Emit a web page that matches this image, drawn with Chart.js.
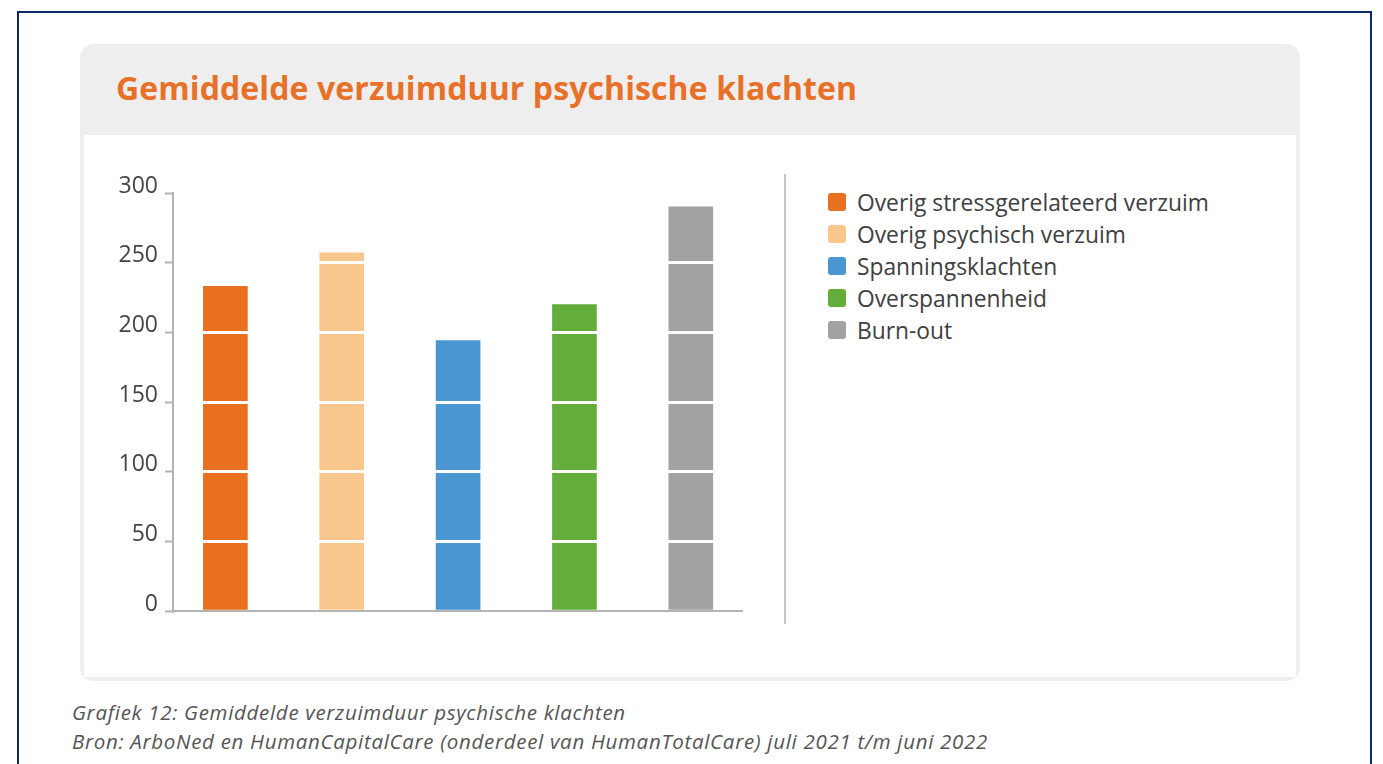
<!DOCTYPE html>
<html>
<head>
<meta charset="utf-8">
<script src="https://cdn.jsdelivr.net/npm/chart.js@4.4.1/dist/chart.umd.min.js"></script>
<style>
  html, body { margin: 0; padding: 0; width: 1383px; height: 764px; overflow: hidden; background: #fff; }
  body { position: relative; font-family: "Open Sans", sans-serif; }
  #frame { position: absolute; left: 17px; top: 11px; width: 1355px; height: 800px; border: 2px solid #0c2a6b; box-sizing: border-box; }
  #card { position: absolute; left: 80px; top: 44px; width: 1220px; height: 637px; background: #eeeeee; border-radius: 14px; }
  #panel { position: absolute; left: 84px; top: 135px; width: 1212px; height: 542px; background: #fff; }
  #title { position: absolute; left: 116px; top: 66px; margin: 0; font-size: 32px; letter-spacing: 0.1px; font-weight: 700; color: #e8712a; white-space: nowrap; line-height: 44px; }
  #sep { position: absolute; left: 784px; top: 174px; width: 2px; height: 450px; background: #c6c6c6; }
  #chartBox { position: absolute; left: 84px; top: 135px; }
  #legend { position: absolute; left: 828px; top: 186px; margin: 0; padding: 0; list-style: none; }
  #legend li { display: flex; align-items: center; height: 32px; font-size: 22.8px; color: #404040; white-space: nowrap; }
  #legend li span.box { display: inline-block; width: 18px; height: 18px; border-radius: 3px; margin-right: 11px; }
  #caption { position: absolute; left: 72px; top: 698px; font-size: 20.5px; letter-spacing: 0.69px; font-style: italic; color: #555; line-height: 29px; white-space: nowrap; }
</style>
</head>
<body>
<div id="frame"></div>
<div id="card"></div>
<div id="panel"></div>
<h1 id="title">Gemiddelde verzuimduur psychische klachten</h1>
<div id="sep"></div>
<div id="chartBox"><canvas id="chart" width="700" height="545"></canvas></div>
<ul id="legend"></ul>
<div id="caption">Grafiek 12: Gemiddelde verzuimduur psychische klachten<br>Bron: ArboNed en HumanCapitalCare (onderdeel van HumanTotalCare) juli 2021 t/m juni 2022</div>
<script>
const categories = [
  "Overig stressgerelateerd verzuim",
  "Overig psychisch verzuim",
  "Spanningsklachten",
  "Overspannenheid",
  "Burn-out"
];
const values = [233, 257, 194, 220, 290];
const colors = ["#e8701f", "#f9c78e", "#4a96d0", "#63ae3a", "#a2a2a2"];
const yTicks = [0, 50, 100, 150, 200, 250, 300];

const datasets = categories.map((name, i) => ({
  label: name,
  data: [{ x: i, y: values[i] }],
  backgroundColor: colors[i],
  borderWidth: 0,
  barThickness: 44,
  grouped: false
}));

const htmlLegend = {
  id: 'htmlLegend',
  afterUpdate(chart) {
    const ul = document.getElementById('legend');
    ul.innerHTML = '';
    const items = chart.options.plugins.legend.labels.generateLabels(chart);
    items.forEach(item => {
      const li = document.createElement('li');
      const box = document.createElement('span');
      box.className = 'box';
      box.style.background = item.fillStyle;
      li.appendChild(box);
      li.appendChild(document.createTextNode(item.text));
      ul.appendChild(li);
    });
  }
};

new Chart(document.getElementById('chart'), {
  type: 'bar',
  data: { datasets },
  plugins: [htmlLegend],
  options: {
    responsive: false,
    devicePixelRatio: 1,
    animation: false,
    layout: { padding: { top: 58, right: 42, bottom: 69, left: 0 } },
    plugins: { legend: { display: false }, tooltip: { enabled: false } },
    scales: {
      x: {
        type: 'linear',
        offset: false,
        min: -0.45,
        max: 4.44,
        ticks: { display: false },
        grid: { display: false },
        border: { display: true, color: '#b4b4b4', width: 2, z: 2 },
        afterFit(scale) { scale.height = 0; }
      },
      y: {
        min: 0,
        max: 300,
        afterBuildTicks(scale) { scale.ticks = yTicks.map(v => ({ value: v })); },
        afterFit(scale) { scale.width = 89; },
        ticks: {
          padding: 7,
          labelOffset: -7,
          color: '#444444',
          font: { family: '"Open Sans", sans-serif', size: 23 }
        },
        grid: {
          z: 1,
          color: ctx => (ctx.tick && ctx.tick.value > 0 && ctx.tick.value < 300) ? '#ffffff' : 'rgba(0,0,0,0)',
          lineWidth: 3,
          tickColor: '#b4b4b4',
          tickWidth: 2,
          tickLength: 8,
          drawTicks: true
        },
        border: { display: true, color: '#b4b4b4', width: 2, z: 2 }
      }
    }
  }
});
</script>
</body>
</html>
